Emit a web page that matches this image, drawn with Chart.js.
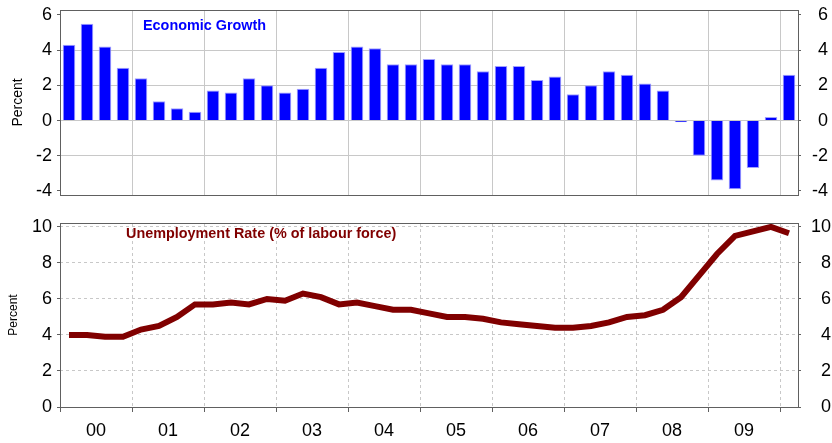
<!DOCTYPE html>
<html><head><meta charset="utf-8">
<script src="https://cdn.jsdelivr.net/npm/chart.js@4.4.1/dist/chart.umd.min.js"></script>
<style>
html,body{margin:0;padding:0;background:#fff;overflow:hidden;width:832px;height:443px}
#c1{position:absolute;left:0;top:0}
#c2{position:absolute;left:0;top:200px}
</style></head><body>
<canvas id="c1" width="832" height="200"></canvas>
<canvas id="c2" width="832" height="243"></canvas>
<script>
const quarters = ['2000Q1','2000Q2','2000Q3','2000Q4','2001Q1','2001Q2','2001Q3','2001Q4',
  '2002Q1','2002Q2','2002Q3','2002Q4','2003Q1','2003Q2','2003Q3','2003Q4',
  '2004Q1','2004Q2','2004Q3','2004Q4','2005Q1','2005Q2','2005Q3','2005Q4',
  '2006Q1','2006Q2','2006Q3','2006Q4','2007Q1','2007Q2','2007Q3','2007Q4',
  '2008Q1','2008Q2','2008Q3','2008Q4','2009Q1','2009Q2','2009Q3','2009Q4','2010Q1'];
const yearLabels = ['00','01','02','03','04','05','06','07','08','09'];
const growth = [4.3,5.5,4.2,3.0,2.4,1.1,0.7,0.5,1.7,1.6,2.4,2.0,1.6,1.8,3.0,3.9,4.2,4.1,3.2,3.2,
  3.5,3.2,3.2,2.8,3.1,3.1,2.3,2.5,1.5,2.0,2.8,2.6,2.1,1.7,-0.1,-2.0,-3.4,-3.9,-2.7,0.2,2.6];
const unemployment = [4.0,4.0,3.9,3.9,4.3,4.5,5.0,5.7,5.7,5.8,5.7,6.0,5.9,6.3,6.1,5.7,5.8,5.6,5.4,5.4,
  5.2,5.0,5.0,4.9,4.7,4.6,4.5,4.4,4.4,4.5,4.7,5.0,5.1,5.4,6.1,7.3,8.5,9.5,9.75,10.0,9.65];
const growthTicks = [-4,-2,0,2,4,6];
const unempTicks = [0,2,4,6,8,10];

Chart.defaults.font.family = "'Liberation Sans', Arial, sans-serif";
const GRID = '#c8c8c8';
const AXIS = '#606060';
const CLEAR = 'rgba(0,0,0,0)';

const framePlugin = {
  id: 'frame',
  afterDraw(chart, args, opts) {
    const ctx = chart.ctx, a = chart.chartArea;
    ctx.save();
    ctx.strokeStyle = AXIS; ctx.lineWidth = 1;
    ctx.strokeRect(Math.round(a.left) + 0.5, Math.round(a.top) + 0.5,
      Math.round(a.right - a.left), Math.round(a.bottom - a.top));
    ctx.font = "bold 14.4px 'Liberation Sans', Arial, sans-serif";
    ctx.fillStyle = opts.color;
    ctx.textAlign = 'left'; ctx.textBaseline = 'middle';
    ctx.fillText(opts.text, opts.x, opts.y);
    ctx.restore();
  }
};

function fitY(w) {
  return function(s) { s.width = w; s.paddingTop = 0; s.paddingBottom = 0; };
}

const commonOpts = {responsive:false, animation:false, devicePixelRatio:1};

new Chart(document.getElementById('c1'), {
  type: 'bar',
  data: {labels: quarters, datasets: [{data: growth, backgroundColor: '#0000ff',
    borderColor: '#a0a0ff', borderWidth: 1, barPercentage: 0.7, categoryPercentage: 1}]},
  options: Object.assign({}, commonOpts, {
    layout: {padding: {top: 10, right: 4, left: 0, bottom: 0}},
    plugins: {legend: {display: false}, tooltip: {enabled: false},
      frame: {text: 'Economic Growth', x: 143, y: 26, color: '#0000ff'}},
    scales: {
      x: {type: 'category', offset: true,
        grid: {offset: true, drawTicks: false,
          color: c => (c.index % 4 === 0 && c.index > 0 && c.index < quarters.length) ? GRID : CLEAR},
        border: {display: false}, ticks: {display: false, autoSkip: false},
        afterFit(s) { s.height = 5; s.paddingLeft = 0; s.paddingRight = 0; }},
      y: {position: 'left', min: -4.23, max: 6.28,
        afterBuildTicks(s) { s.ticks = growthTicks.map(v => ({value: v})); },
        grid: {color: c => (c.tick && (c.tick.value === 6 || c.tick.value === -4)) ? CLEAR : GRID,
          tickColor: AXIS, tickLength: 3},
        border: {display: false},
        ticks: {font: {size: 18}, color: '#000', padding: 5},
        title: {display: true, text: 'Percent', color: '#000', font: {size: 14}, padding: {top: 10, bottom: 0}},
        afterFit: fitY(60)},
      y2: {position: 'right', min: -4.23, max: 6.28,
        afterBuildTicks(s) { s.ticks = growthTicks.map(v => ({value: v})); },
        grid: {drawOnChartArea: false, tickColor: AXIS, tickLength: 3},
        border: {display: false},
        ticks: {font: {size: 18}, color: '#000', padding: 5, crossAlign: 'far'},
        afterFit: fitY(30)}
    }
  }),
  plugins: [framePlugin]
});

new Chart(document.getElementById('c2'), {
  type: 'line',
  data: {labels: quarters, datasets: [{data: unemployment, borderColor: '#800000',
    backgroundColor: '#800000', borderWidth: 6, pointRadius: 0, tension: 0,
    borderJoinStyle: 'miter', fill: false}]},
  options: Object.assign({}, commonOpts, {
    layout: {padding: {top: 23, right: 1, left: 0, bottom: 0}},
    plugins: {legend: {display: false}, tooltip: {enabled: false},
      frame: {text: 'Unemployment Rate (% of labour force)', x: 126, y: 34.5, color: '#800000'}},
    scales: {
      x: {type: 'category', offset: true,
        grid: {offset: true, drawTicks: true, tickLength: 5,
          color: c => (c.index % 4 === 0 && c.index > 0 && c.index < quarters.length) ? GRID : CLEAR,
          tickColor: c => (c.index % 4 === 0 && c.index < quarters.length) ? AXIS : CLEAR},
        border: {display: false, dash: [3, 3]},
        ticks: {autoSkip: false, maxRotation: 0, minRotation: 0, font: {size: 18}, color: '#000',
          padding: 8, labelOffset: 9,
          callback: (v, i) => (i % 4 === 1 && yearLabels[Math.floor(i / 4)]) ? yearLabels[Math.floor(i / 4)] : ''},
        afterFit(s) { s.height = 36; s.paddingLeft = 0; s.paddingRight = 0; }},
      y: {position: 'left', min: 0, max: 10.22,
        afterBuildTicks(s) { s.ticks = unempTicks.map(v => ({value: v})); },
        grid: {color: c => (c.tick && c.tick.value === 0) ? CLEAR : GRID, tickColor: AXIS, tickLength: 3},
        border: {display: false, dash: [3, 3]},
        ticks: {font: {size: 18}, color: '#000', padding: 5},
        title: {display: true, text: 'Percent', color: '#000', font: {size: 12}, padding: {top: 6, bottom: 0}},
        afterFit: fitY(60)},
      y2: {position: 'right', min: 0, max: 10.22,
        afterBuildTicks(s) { s.ticks = unempTicks.map(v => ({value: v})); },
        grid: {drawOnChartArea: false, tickColor: AXIS, tickLength: 3},
        border: {display: false},
        ticks: {font: {size: 18}, color: '#000', padding: 5, crossAlign: 'far'},
        afterFit: fitY(33)}
    }
  }),
  plugins: [framePlugin]
});
</script></body></html>
